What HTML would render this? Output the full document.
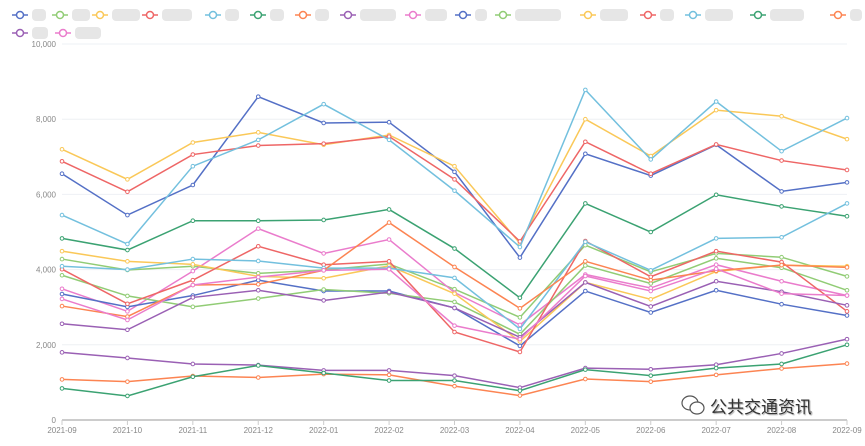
<!DOCTYPE html>
<html><head><meta charset="utf-8"><style>
body{margin:0;background:#fff;width:865px;height:441px;overflow:hidden;font-family:"Liberation Sans","Noto Sans CJK SC",sans-serif}
</style></head><body>
<svg id="chart" width="865" height="441" xmlns="http://www.w3.org/2000/svg"></svg>
<script>
const categories=["2021-09","2021-10","2021-11","2021-12","2022-01","2022-02","2022-03","2022-04","2022-05","2022-06","2022-07","2022-08","2022-09"];
const yTicks=[0,2000,4000,6000,8000,10000];
const yTickLabels=["0","2,000","4,000","6,000","8,000","10,000"];
const s1=[6550,5450,6250,8600,7900,7920,6600,4320,7080,6500,7320,6080,6320];
const s2=[4280,3990,4090,3900,3990,4150,3480,2730,4650,3940,4430,4330,3820];
const s3=[7200,6400,7380,7650,7320,7580,6750,4700,8000,7020,8240,8080,7470];
const s4=[6880,6070,7060,7300,7350,7540,6400,4750,7400,6550,7330,6900,6650];
const s5=[5450,4680,6750,7450,8400,7450,6100,4600,8780,6930,8470,7150,8030];
const s6=[4830,4520,5300,5300,5320,5600,4560,3250,5760,5000,5990,5680,5420];
const s7=[1080,1020,1170,1130,1220,1200,900,650,1090,1020,1200,1370,1500];
const s8=[1800,1650,1490,1460,1320,1320,1180,860,1380,1350,1470,1770,2150];
const s9=[3490,2890,3960,5090,4430,4800,3390,2530,3870,3510,4130,3690,3310];
const s10=[3350,3010,3310,3720,3430,3430,2980,1970,3430,2860,3450,3080,2780];
const s11=[3850,3300,3010,3230,3470,3370,3140,2280,4110,3630,4300,4050,3450];
const s12=[4490,4220,4140,3820,3770,4100,3360,2090,3660,3210,3950,4120,4090];
const s13=[4010,3090,3720,4620,4130,4220,2340,1810,4760,3810,4490,4200,2890];
const s14=[4090,4000,4280,4230,4040,4040,3780,2420,4740,3980,4830,4860,5760];
const s15=[840,640,1150,1450,1250,1050,1050,780,1340,1180,1380,1490,2000];
const s16=[3030,2750,3590,3610,3980,5250,4070,2970,4220,3720,3970,4120,4060];
const s17=[2560,2400,3260,3450,3180,3400,2980,2200,3660,3020,3690,3410,3050];
const s18=[3220,2660,3590,3800,3980,4010,2510,2150,3830,3430,4020,3360,3310];
const series=[s1,s2,s3,s4,s5,s6,s7,s8,s9,s10,s11,s12,s13,s14,s15,s16,s17,s18];
const palette=["#5470c6","#91cc75","#fac858","#ee6666","#73c0de","#3ba272","#fc8452","#9a60b4","#ea7ccc"];
const NS="http://www.w3.org/2000/svg";
const svg=document.getElementById('chart');
const X0=62,X1=847,Y0=420,Y1=44,YMAX=10000;
const xs=i=>X0+i*(X1-X0)/(categories.length-1);
const ys=v=>Y0-v/YMAX*(Y0-Y1);
function mk(t,a){const e=document.createElementNS(NS,t);for(const k in a)e.setAttribute(k,a[k]);svg.appendChild(e);return e;}
yTicks.forEach((t,i)=>{
  if(t>0){const g=mk('line',{x1:X0,x2:X1,y1:ys(t),y2:ys(t),stroke:'#eef0f4','stroke-width':1});
  
  }
  const l=mk('text',{x:56,y:ys(t)+3,'text-anchor':'end','font-size':8,fill:'#888'});l.textContent=yTickLabels[i];
  
  
});
const ax=mk('line',{x1:X0,x2:X1,y1:Y0,y2:Y0,stroke:'#ccc','stroke-width':2});


categories.forEach((c,i)=>{
  const tk=mk('line',{x1:xs(i),x2:xs(i),y1:Y0,y2:Y0+5,stroke:'#ccc'});
  
  
  const l=mk('text',{x:xs(i),y:Y0+13,'text-anchor':'middle','font-size':8,fill:'#888'});l.textContent=c;
  
  
});
series.forEach((s,k)=>{
  const col=palette[k%9];
  const p=mk('polyline',{points:s.map((v,i)=>xs(i)+','+ys(v)).join(' '),fill:'none',stroke:col,'stroke-width':1.5});
  
  
  s.forEach((v,i)=>{const c=mk('circle',{cx:xs(i),cy:ys(v),r:1.8,fill:'#fff',stroke:col,'stroke-width':1});
  
  });
});
// legend
const lx=[12,52,92,142,205,250,295,340,405,455,495,580,640,685,750,830,12,55];
const lw=[14,18,28,30,14,14,14,36,22,12,46,28,14,28,34,12,16,26];
lx.forEach((x,k)=>{
  const y=k<16?15:33,col=palette[k%9];
  const g=document.createElementNS(NS,'g');svg.appendChild(g);
  
  
  const a=document.createElementNS(NS,'line');a.setAttribute('x1',x);a.setAttribute('x2',x+16);a.setAttribute('y1',y);a.setAttribute('y2',y);a.setAttribute('stroke',col);a.setAttribute('stroke-width',1.5);g.appendChild(a);
  const c=document.createElementNS(NS,'circle');c.setAttribute('cx',x+8);c.setAttribute('cy',y);c.setAttribute('r',3.5);c.setAttribute('fill','#fff');c.setAttribute('stroke',col);c.setAttribute('stroke-width',1.5);g.appendChild(c);
  const r=document.createElementNS(NS,'rect');r.setAttribute('x',x+20);r.setAttribute('y',y-6);r.setAttribute('width',lw[k]);r.setAttribute('height',12);r.setAttribute('rx',4);r.setAttribute('fill','#e6e6e6');g.appendChild(r);
});
const tl=mk('text',{x:20,y:48,'font-size':8,fill:'#aaa'});tl.textContent='10,000';


tl.setAttribute('display','none');
</script>
<div style="position:absolute;left:680px;top:392px;display:flex;align-items:center;color:#333;font-size:17px;text-shadow:1px 1px 1px #aaa">
<svg width="26" height="26"><ellipse cx="10" cy="11" rx="8" ry="7" fill="none" stroke="#555" stroke-width="1.2"/><ellipse cx="17" cy="16" rx="7" ry="6" fill="#fff" stroke="#555" stroke-width="1.2"/></svg>
<span style="margin-left:4px;font-family:'Noto Sans CJK SC',sans-serif">公共交通资讯</span></div>
</body></html>
